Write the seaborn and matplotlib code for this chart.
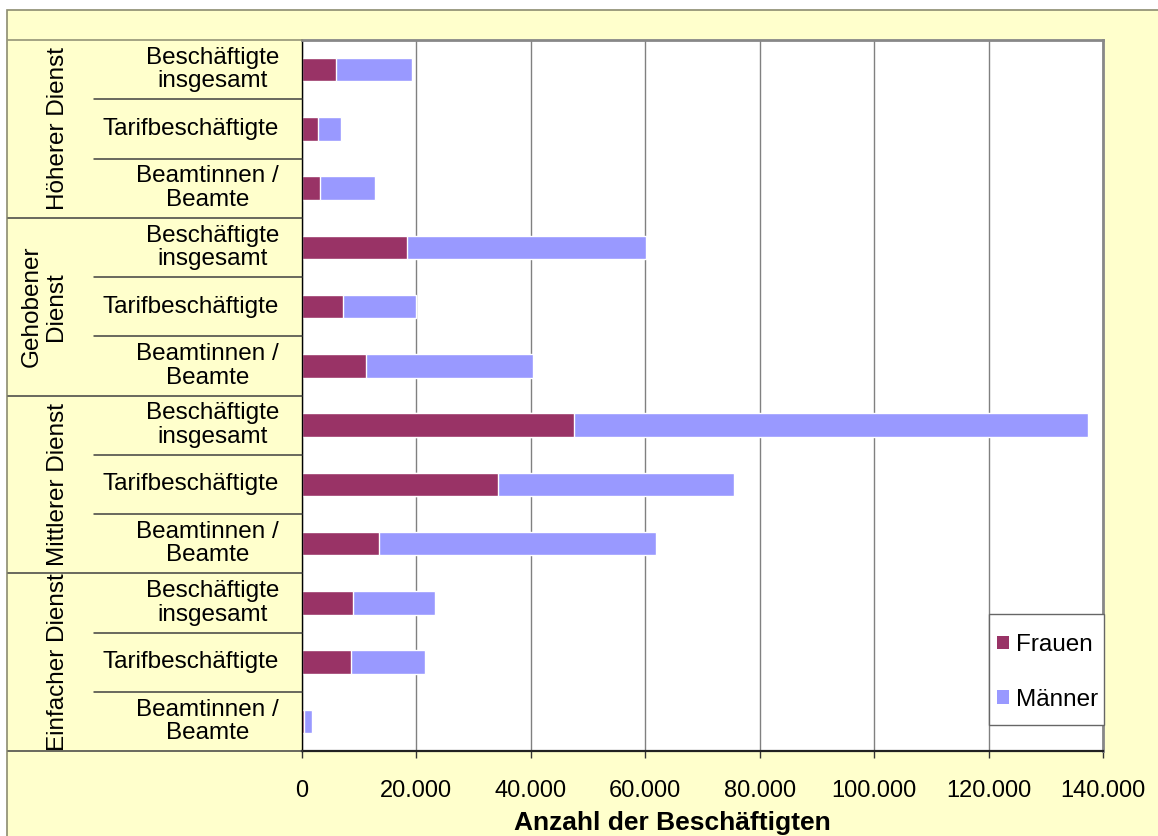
import pandas as pd
import seaborn as sns
import matplotlib.pyplot as plt
from matplotlib.patches import Rectangle, Patch
from matplotlib.lines import Line2D
from matplotlib.transforms import blended_transform_factory

# ---- data -------------------------------------------------------------
groups = ["Höherer Dienst", "Gehobener\nDienst", "Mittlerer Dienst", "Einfacher Dienst"]
subcategories = ["Beschäftigte\ninsgesamt", "Tarifbeschäftigte", "Beamtinnen /\nBeamte"]
series_names = ["Frauen", "Männer"]

# rows in order: group x subcategory
frauen = [5950, 2850, 3150,
          18400, 7200, 11250,
          47600, 34200, 13400,
          9000, 8600, 400]
maenner = [13350, 3950, 9550,
           41700, 12700, 29050,
           89800, 41300, 48500,
           14300, 12900, 1400]

x_ticks = [0, 20000, 40000, 60000, 80000, 100000, 120000, 140000]
x_label = "Anzahl der Beschäftigten"

# ---- style ------------------------------------------------------------
FRAUEN_COLOR = "#993366"
MAENNER_COLOR = "#9999FF"
PANEL_COLOR = "#FFFFCC"
FRAME_COLOR = "#8C8C70"
LINE_COLOR = "#404040"
LABEL_SIZE = 17.5

sns.set_theme(style="white")
plt.rcParams["font.family"] = ["Liberation Sans", "DejaVu Sans"]
plt.rcParams["text.color"] = "black"

W, H = 1158, 836


def fx(px):
    return px / W


def fy(py):
    return 1 - py / H


rows = [f"{g}|{s}" for g in groups for s in subcategories]
df = pd.DataFrame({"row": rows, "Frauen": frauen, "Männer": maenner})
df["Gesamt"] = df["Frauen"] + df["Männer"]

fig = plt.figure(figsize=(W / 100, H / 100), dpi=100, facecolor="white")

# yellow chart panel with its frame
fig.add_artist(Rectangle((fx(7.5), -0.05), 1.0, fy(9.5) + 0.05,
                         transform=fig.transFigure, facecolor=PANEL_COLOR,
                         edgecolor=FRAME_COLOR, lw=1.2, zorder=0))

ax = fig.add_axes([fx(302), fy(751), fx(1103) - fx(302), fy(40) - fy(751)])
ax.set_facecolor("white")

# stacked bars: total (Männer segment) underneath, Frauen from zero on top
sns.barplot(data=df, x="Gesamt", y="row", order=rows, orient="h",
            color=MAENNER_COLOR, saturation=1, width=0.4, ax=ax)
sns.barplot(data=df, x="Frauen", y="row", order=rows, orient="h",
            color=FRAUEN_COLOR, saturation=1, width=0.4, ax=ax)

ax.set_xlim(0, 140000)
ax.set_ylim(len(rows) - 0.5, -0.5)
ax.set_xticks(x_ticks)
ax.set_xticklabels([f"{v:,}".replace(",", ".") for v in x_ticks])
ax.set_yticks([])
ax.set_xlabel("")
ax.set_ylabel("")
ax.tick_params(axis="x", bottom=True, direction="out", length=5, width=1,
               color="#333333", pad=16, labelsize=17, labelcolor="black")
ax.grid(axis="x", color="#808080", lw=1)
ax.grid(axis="y", visible=False)
ax.set_axisbelow(True)

for side in ("top", "right"):
    ax.spines[side].set_color("#888888")
    ax.spines[side].set_linewidth(2)
ax.spines["left"].set_color("black")
ax.spines["left"].set_linewidth(1)
ax.spines["bottom"].set_color("#222222")
ax.spines["bottom"].set_linewidth(1.6)

# ---- category table on the left ---------------------------------------
trans = blended_transform_factory(fig.transFigure, ax.transData)
n_sub = len(subcategories)

for gi in range(len(groups) + 1):
    b = gi * n_sub - 0.5
    color = FRAME_COLOR if gi == 0 else LINE_COLOR
    fig.add_artist(Line2D([fx(8), fx(302)], [b, b], transform=trans,
                          color=color, lw=1.1))
for gi in range(len(groups)):
    for si in range(1, n_sub):
        b = gi * n_sub + si - 0.5
        fig.add_artist(Line2D([fx(94), fx(302)], [b, b], transform=trans,
                              color=LINE_COLOR, lw=1.1))

for i, r in enumerate(rows):
    sub = r.split("|")[1]
    fig.text(fx(279), i, sub, transform=trans, ha="right", va="center",
             multialignment="center", fontsize=LABEL_SIZE, linespacing=1.08,
             color="black")

for gi, g in enumerate(groups):
    nlines = g.count("\n") + 1
    xc = 58 - 14 * (nlines - 1)
    fig.text(fx(xc), gi * n_sub + (n_sub - 1) / 2, g, transform=trans,
             rotation=90, ha="center", va="center", multialignment="center",
             fontsize=LABEL_SIZE, linespacing=1.1, color="black")

# ---- legend and axis title -------------------------------------------
lx0, ly0, lx1, ly1 = 989, 614, 1104, 725
ax.add_patch(Rectangle((fx(lx0), fy(ly1)), fx(lx1) - fx(lx0), fy(ly0) - fy(ly1),
                       transform=fig.transFigure, facecolor="white",
                       edgecolor="#666666", lw=1, zorder=4.5, clip_on=False))
handles = [Patch(facecolor=FRAUEN_COLOR, edgecolor="none"),
           Patch(facecolor=MAENNER_COLOR, edgecolor="none")]
leg = ax.legend(handles, series_names, loc="center",
                bbox_to_anchor=(fx((lx0 + lx1) / 2 + 1), fy((ly0 + ly1) / 2 + 3)),
                bbox_transform=fig.transFigure, frameon=False,
                fontsize=LABEL_SIZE, labelcolor="black",
                handlelength=0.5, handleheight=0.5, handletextpad=0.25,
                labelspacing=1.35, borderpad=0, borderaxespad=0)
leg.set_zorder(5)

fig.text(fx(672), fy(830), x_label, ha="center", va="baseline",
         fontsize=19, fontweight="bold", color="black")

fig.savefig("out.png", dpi=100, facecolor=fig.get_facecolor())
